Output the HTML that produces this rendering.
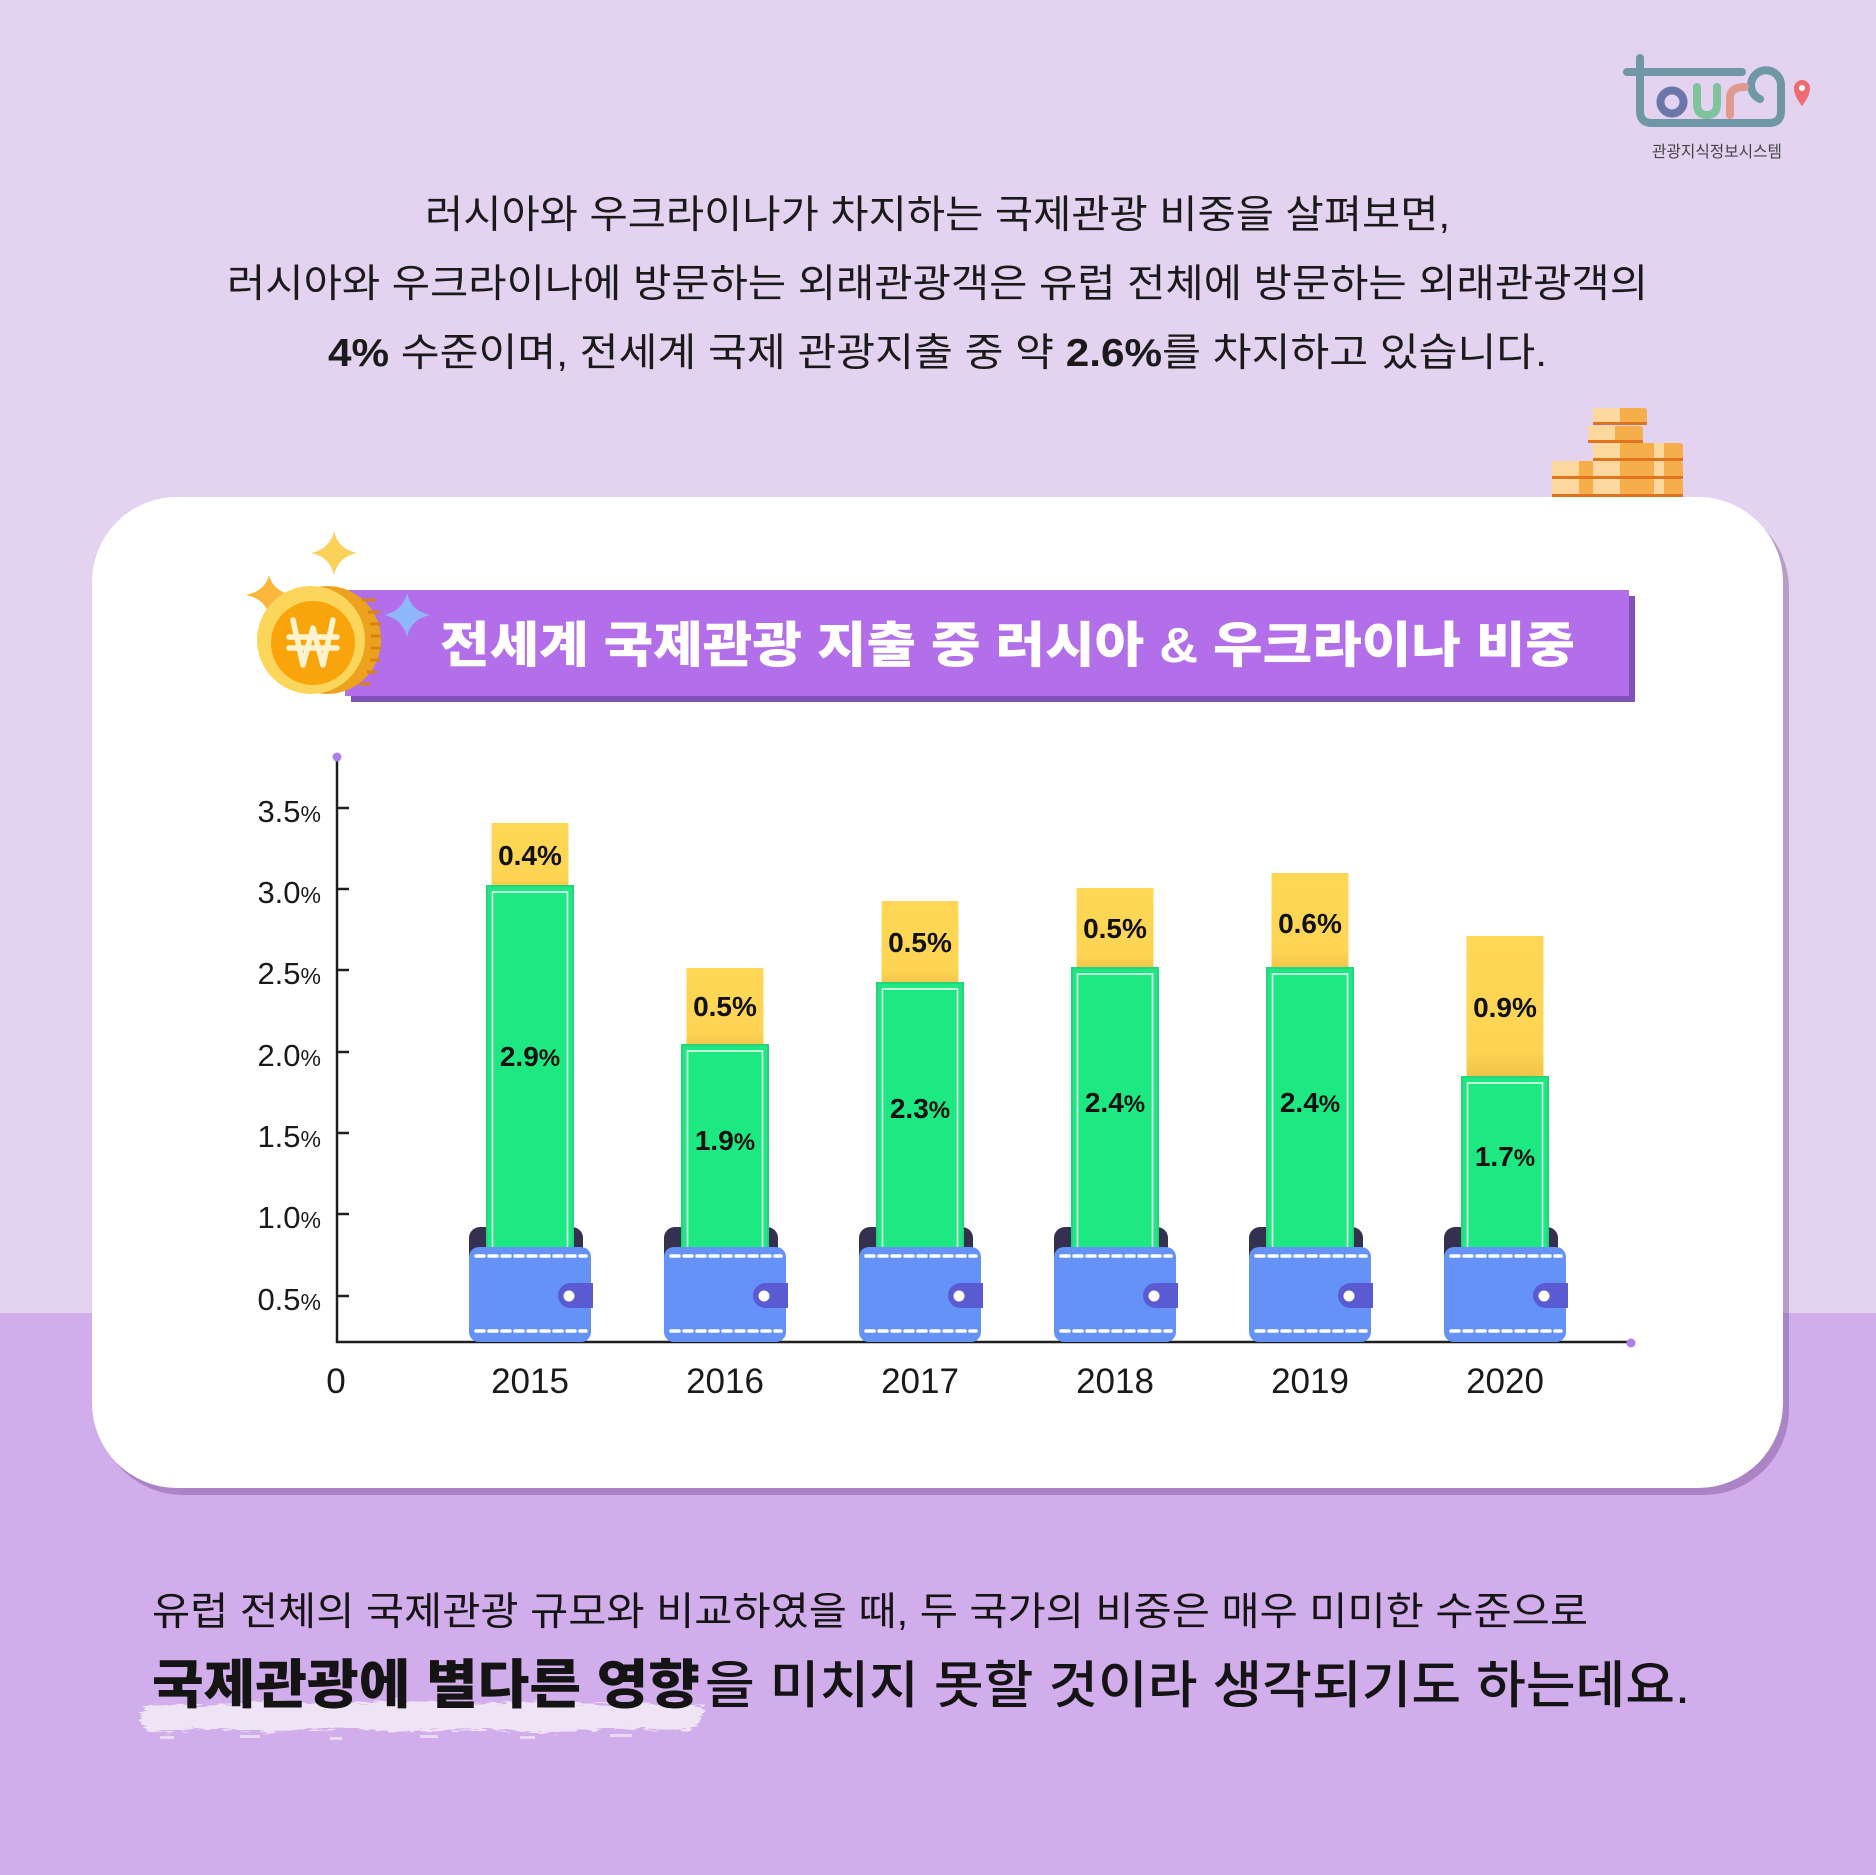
<!DOCTYPE html>
<html><head><meta charset="utf-8"><style>
html,body{margin:0;padding:0;background:#e3d2f0;}
svg{display:block;}
.kr{font-family:"Liberation Sans","Noto Sans CJK KR",sans-serif;}
.num{font-family:"Liberation Sans","Noto Sans CJK KR",sans-serif;}
</style></head><body>
<svg width="1876" height="1875" viewBox="0 0 1876 1875" xmlns="http://www.w3.org/2000/svg">
<defs>
<linearGradient id="yg" x1="0" y1="0" x2="0" y2="1">
<stop offset="0" stop-color="#ffd756"/><stop offset="0.8" stop-color="#fdd453"/><stop offset="1" stop-color="#eebf48"/>
</linearGradient>
<filter id="rough" x="-5%" y="-30%" width="110%" height="160%">
<feTurbulence type="fractalNoise" baseFrequency="0.08 0.5" numOctaves="2" seed="3" result="n"/>
<feDisplacementMap in="SourceGraphic" in2="n" scale="10" xChannelSelector="R" yChannelSelector="G"/>
</filter>
</defs>
<!-- background -->
<rect x="0" y="0" width="1876" height="1313" fill="#e3d2f0"/>
<rect x="0" y="1313" width="1876" height="562" fill="#d2adeb"/>

<!-- logo -->
<g fill="none" stroke-linecap="round" stroke-linejoin="round" stroke-width="8">
<path d="M1640,58 V111 Q1640,123 1652,123 H1769 Q1781,123 1781,111 V86" stroke="#6f97a6"/>
<path d="M1627,72 H1742" stroke="#6f97a6"/>
<path d="M1781,86 A15,15 0 1 0 1760,99" stroke="#6f97a6"/>
<circle cx="1672" cy="102" r="11.5" stroke="#6b77a8"/>
<path d="M1697,87 V104 Q1697,115 1707,115 Q1717,115 1717,104 V87" stroke="#7fc29b"/>
<path d="M1730,115 V98 Q1730,87 1745,87" stroke="#e09a90"/>
</g>
<path d="M1802,106 Q1794,96 1794,88 A8,8 0 1 1 1810,88 Q1810,96 1802,106 Z" fill="#ef6b72"/>
<circle cx="1802" cy="88" r="3" fill="#fff"/>
<text x="1717" y="157" text-anchor="middle" class="kr" font-size="16" fill="#444" textLength="130" lengthAdjust="spacingAndGlyphs">관광지식정보시스템</text>

<!-- top paragraph -->
<g class="kr" font-size="39" fill="#1a1a1a">
<text x="425" y="228" textLength="1025" lengthAdjust="spacingAndGlyphs">러시아와 우크라이나가 차지하는 국제관광 비중을 살펴보면,</text>
<text x="227" y="297" textLength="1421" lengthAdjust="spacingAndGlyphs">러시아와 우크라이나에 방문하는 외래관광객은 유럽 전체에 방문하는 외래관광객의</text>
<text x="328" y="366" textLength="1219" lengthAdjust="spacingAndGlyphs"><tspan font-weight="bold">4%</tspan> 수준이며, 전세계 국제 관광지출 중 약 <tspan font-weight="bold">2.6%</tspan>를 차지하고 있습니다.</text>
</g>

<!-- coin stack top right -->
<g>
<g>
<rect x="1593" y="408" width="54" height="17" rx="3" fill="#f5ae4a"/><rect x="1593" y="408" width="27" height="14" fill="#fcd79e"/><rect x="1593" y="422" width="54" height="3" fill="#e2731e"/>
</g>
<g>
<rect x="1588" y="426" width="55" height="17" rx="3" fill="#f5ae4a"/><rect x="1588" y="426" width="27" height="14" fill="#fcd79e"/><rect x="1588" y="440" width="55" height="3" fill="#e2731e"/>
</g>
<g>
<rect x="1593" y="443" width="90" height="18" rx="3" fill="#f5ae4a"/><rect x="1593" y="443" width="27" height="15" fill="#fcd79e"/><rect x="1654" y="443" width="10" height="15" fill="#fcd79e"/><rect x="1593" y="458" width="90" height="3" fill="#e2731e"/>
</g>
<g>
<rect x="1552" y="461" width="131" height="18" rx="3" fill="#f5ae4a"/><rect x="1552" y="461" width="27" height="15" fill="#fcd79e"/><rect x="1593" y="461" width="27" height="15" fill="#fcd79e"/><rect x="1654" y="461" width="10" height="15" fill="#fcd79e"/><rect x="1552" y="476" width="131" height="3" fill="#e2731e"/>
</g>
<g>
<rect x="1552" y="479" width="131" height="18" rx="3" fill="#f5ae4a"/><rect x="1552" y="479" width="27" height="15" fill="#fcd79e"/><rect x="1593" y="479" width="27" height="15" fill="#fcd79e"/><rect x="1654" y="479" width="10" height="15" fill="#fcd79e"/><rect x="1552" y="494" width="131" height="3" fill="#e2731e"/>
</g>
</g>

<!-- card -->
<rect x="98" y="504" width="1691" height="991" rx="85" fill="rgba(80,40,110,0.3)"/>
<rect x="92" y="497" width="1691" height="991" rx="85" fill="#ffffff"/>

<!-- banner -->
<rect x="351" y="596" width="1284" height="106" fill="#7f51b9"/>
<rect x="345" y="590" width="1284" height="106" fill="#b36fea"/>
<text x="440" y="662" class="kr" font-size="49" font-weight="900" fill="#ffffff" textLength="1135" lengthAdjust="spacingAndGlyphs">전세계 국제관광 지출 중 러시아 &amp; 우크라이나 비중</text>

<!-- sparkles -->
<path d="M334,531 Q338,549 357,553 Q338,557 334,575 Q330,557 311,553 Q330,549 334,531 Z" fill="#fcd15a"/>
<path d="M269,575 Q273,591 292,595 Q273,599 269,615 Q265,599 246,595 Q265,591 269,575 Z" fill="#fbb63d"/>
<!-- coin -->
<circle cx="327" cy="640" r="54" fill="#eda21e"/>
<g stroke="#d9820f" stroke-width="3">
<line x1="362" y1="600" x2="376" y2="600"/><line x1="368" y1="612" x2="380" y2="612"/><line x1="370" y1="624" x2="381" y2="624"/><line x1="371" y1="636" x2="381" y2="636"/><line x1="371" y1="648" x2="381" y2="648"/><line x1="370" y1="660" x2="380" y2="660"/><line x1="367" y1="672" x2="377" y2="672"/><line x1="360" y1="684" x2="370" y2="684"/>
</g>
<circle cx="311" cy="640" r="54" fill="#fcd55b"/>
<circle cx="313" cy="643" r="42" fill="#f9a40b"/>
<g stroke="#fff3cf" stroke-width="5.5" fill="none" stroke-linecap="round" stroke-linejoin="round">
<path d="M293,620 L303,665 L313,628 L323,665 L333,620"/>
<path d="M289,637 H337"/>
<path d="M289,648 H337"/>
</g>
<path d="M407,593 Q411,611 430,615 Q411,619 407,637 Q403,619 384,615 Q403,611 407,593 Z" fill="#8fb8fb"/>

<!-- axes -->
<g stroke="#1e1e1e" stroke-width="2.5">
<line x1="337" y1="757" x2="337" y2="1343"/>
<line x1="336" y1="1342" x2="1631" y2="1342"/>
<line x1="337" y1="808" x2="349" y2="808"/>
<line x1="337" y1="889" x2="349" y2="889"/>
<line x1="337" y1="970" x2="349" y2="970"/>
<line x1="337" y1="1052" x2="349" y2="1052"/>
<line x1="337" y1="1133" x2="349" y2="1133"/>
<line x1="337" y1="1214" x2="349" y2="1214"/>
<line x1="337" y1="1296" x2="349" y2="1296"/>
</g>
<circle cx="337" cy="757" r="4.5" fill="#b07ee8"/>
<circle cx="1631" cy="1343" r="4.5" fill="#b07ee8"/>

<g class="num" fill="#1a1a1a" text-anchor="end" font-size="31">
<text x="321" y="822">3.5<tspan font-size="23">%</tspan></text>
<text x="321" y="903">3.0<tspan font-size="23">%</tspan></text>
<text x="321" y="984">2.5<tspan font-size="23">%</tspan></text>
<text x="321" y="1066">2.0<tspan font-size="23">%</tspan></text>
<text x="321" y="1147">1.5<tspan font-size="23">%</tspan></text>
<text x="321" y="1228">1.0<tspan font-size="23">%</tspan></text>
<text x="321" y="1310">0.5<tspan font-size="23">%</tspan></text>
</g>
<g class="num" fill="#1a1a1a" text-anchor="middle" font-size="35">
<text x="336" y="1393">0</text>
<text x="530" y="1393">2015</text>
<text x="725" y="1393">2016</text>
<text x="920" y="1393">2017</text>
<text x="1115" y="1393">2018</text>
<text x="1310" y="1393">2019</text>
<text x="1505" y="1393">2020</text>
</g>

<!-- bars + wallets -->
<g>
<rect x="469" y="1227" width="114" height="40" rx="11" fill="#34304f"/>
<rect x="491.5" y="823" width="77" height="70" fill="url(#yg)"/>
<rect x="487" y="886" width="86" height="400" fill="#1de882" stroke="#27d37b" stroke-width="2"/>
<rect x="492.5" y="892" width="75" height="400" fill="none" stroke="#ffffff" stroke-width="1.6" opacity="0.9"/>
<rect x="469" y="1247" width="122" height="95" rx="10" fill="#6592f7"/>
<line x1="476" y1="1256" x2="586" y2="1256" stroke="#fff" stroke-width="3.5" stroke-dasharray="8 5" stroke-linecap="round"/>
<line x1="476" y1="1331" x2="586" y2="1331" stroke="#fff" stroke-width="3.5" stroke-dasharray="8 5" stroke-linecap="round"/>
<path d="M570.5,1283 H593 V1308 H570.5 A12.5,12.5 0 0 1 570.5,1283 Z" fill="#5a5ad3"/>
<circle cx="569" cy="1296" r="5.5" fill="#fff"/>
</g>
<g>
<rect x="664" y="1227" width="114" height="40" rx="11" fill="#34304f"/>
<rect x="686.5" y="968" width="77" height="82" fill="url(#yg)"/>
<rect x="682" y="1045" width="86" height="240" fill="#1de882" stroke="#27d37b" stroke-width="2"/>
<rect x="687.5" y="1051" width="75" height="240" fill="none" stroke="#ffffff" stroke-width="1.6" opacity="0.9"/>
<rect x="664" y="1247" width="122" height="95" rx="10" fill="#6592f7"/>
<line x1="671" y1="1256" x2="781" y2="1256" stroke="#fff" stroke-width="3.5" stroke-dasharray="8 5" stroke-linecap="round"/>
<line x1="671" y1="1331" x2="781" y2="1331" stroke="#fff" stroke-width="3.5" stroke-dasharray="8 5" stroke-linecap="round"/>
<path d="M765.5,1283 H788 V1308 H765.5 A12.5,12.5 0 0 1 765.5,1283 Z" fill="#5a5ad3"/>
<circle cx="764" cy="1296" r="5.5" fill="#fff"/>
</g>
<g>
<rect x="859" y="1227" width="114" height="40" rx="11" fill="#34304f"/>
<rect x="881.5" y="901" width="77" height="87" fill="url(#yg)"/>
<rect x="877" y="983" width="86" height="300" fill="#1de882" stroke="#27d37b" stroke-width="2"/>
<rect x="882.5" y="989" width="75" height="300" fill="none" stroke="#ffffff" stroke-width="1.6" opacity="0.9"/>
<rect x="859" y="1247" width="122" height="95" rx="10" fill="#6592f7"/>
<line x1="866" y1="1256" x2="976" y2="1256" stroke="#fff" stroke-width="3.5" stroke-dasharray="8 5" stroke-linecap="round"/>
<line x1="866" y1="1331" x2="976" y2="1331" stroke="#fff" stroke-width="3.5" stroke-dasharray="8 5" stroke-linecap="round"/>
<path d="M960.5,1283 H983 V1308 H960.5 A12.5,12.5 0 0 1 960.5,1283 Z" fill="#5a5ad3"/>
<circle cx="959" cy="1296" r="5.5" fill="#fff"/>
</g>
<g>
<rect x="1054" y="1227" width="114" height="40" rx="11" fill="#34304f"/>
<rect x="1076.5" y="888" width="77" height="85" fill="url(#yg)"/>
<rect x="1072" y="968" width="86" height="310" fill="#1de882" stroke="#27d37b" stroke-width="2"/>
<rect x="1077.5" y="974" width="75" height="310" fill="none" stroke="#ffffff" stroke-width="1.6" opacity="0.9"/>
<rect x="1054" y="1247" width="122" height="95" rx="10" fill="#6592f7"/>
<line x1="1061" y1="1256" x2="1171" y2="1256" stroke="#fff" stroke-width="3.5" stroke-dasharray="8 5" stroke-linecap="round"/>
<line x1="1061" y1="1331" x2="1171" y2="1331" stroke="#fff" stroke-width="3.5" stroke-dasharray="8 5" stroke-linecap="round"/>
<path d="M1155.5,1283 H1178 V1308 H1155.5 A12.5,12.5 0 0 1 1155.5,1283 Z" fill="#5a5ad3"/>
<circle cx="1154" cy="1296" r="5.5" fill="#fff"/>
</g>
<g>
<rect x="1249" y="1227" width="114" height="40" rx="11" fill="#34304f"/>
<rect x="1271.5" y="873" width="77" height="100" fill="url(#yg)"/>
<rect x="1267" y="968" width="86" height="310" fill="#1de882" stroke="#27d37b" stroke-width="2"/>
<rect x="1272.5" y="974" width="75" height="310" fill="none" stroke="#ffffff" stroke-width="1.6" opacity="0.9"/>
<rect x="1249" y="1247" width="122" height="95" rx="10" fill="#6592f7"/>
<line x1="1256" y1="1256" x2="1366" y2="1256" stroke="#fff" stroke-width="3.5" stroke-dasharray="8 5" stroke-linecap="round"/>
<line x1="1256" y1="1331" x2="1366" y2="1331" stroke="#fff" stroke-width="3.5" stroke-dasharray="8 5" stroke-linecap="round"/>
<path d="M1350.5,1283 H1373 V1308 H1350.5 A12.5,12.5 0 0 1 1350.5,1283 Z" fill="#5a5ad3"/>
<circle cx="1349" cy="1296" r="5.5" fill="#fff"/>
</g>
<g>
<rect x="1444" y="1227" width="114" height="40" rx="11" fill="#34304f"/>
<rect x="1466.5" y="936" width="77" height="146" fill="url(#yg)"/>
<rect x="1462" y="1077" width="86" height="200" fill="#1de882" stroke="#27d37b" stroke-width="2"/>
<rect x="1467.5" y="1083" width="75" height="200" fill="none" stroke="#ffffff" stroke-width="1.6" opacity="0.9"/>
<rect x="1444" y="1247" width="122" height="95" rx="10" fill="#6592f7"/>
<line x1="1451" y1="1256" x2="1561" y2="1256" stroke="#fff" stroke-width="3.5" stroke-dasharray="8 5" stroke-linecap="round"/>
<line x1="1451" y1="1331" x2="1561" y2="1331" stroke="#fff" stroke-width="3.5" stroke-dasharray="8 5" stroke-linecap="round"/>
<path d="M1545.5,1283 H1568 V1308 H1545.5 A12.5,12.5 0 0 1 1545.5,1283 Z" fill="#5a5ad3"/>
<circle cx="1544" cy="1296" r="5.5" fill="#fff"/>
</g>

<!-- bar labels -->
<g class="num" fill="#111" font-weight="bold" font-size="28" text-anchor="middle">
<text x="530" y="865">0.4%</text>
<text x="725" y="1016">0.5%</text>
<text x="920" y="952">0.5%</text>
<text x="1115" y="938">0.5%</text>
<text x="1310" y="933">0.6%</text>
<text x="1505" y="1017">0.9%</text>
<text x="530" y="1066">2.9<tspan font-size="24">%</tspan></text>
<text x="725" y="1150">1.9<tspan font-size="24">%</tspan></text>
<text x="920" y="1118">2.3<tspan font-size="24">%</tspan></text>
<text x="1115" y="1112">2.4<tspan font-size="24">%</tspan></text>
<text x="1310" y="1112">2.4<tspan font-size="24">%</tspan></text>
<text x="1505" y="1166">1.7<tspan font-size="24">%</tspan></text>
</g>

<!-- bottom text -->
<g filter="url(#rough)" opacity="0.85">
<path d="M140,1712 L150,1704 L200,1706 L260,1701 L330,1705 L400,1700 L470,1704 L540,1701 L610,1705 L680,1702 L704,1707 L700,1722 L690,1731 L620,1728 L550,1733 L480,1729 L410,1732 L340,1728 L270,1732 L200,1729 L150,1733 L142,1726 Z" fill="#f4eef9"/>
</g>
<g fill="#f4eef9" opacity="0.7">
<rect x="160" y="1736" width="14" height="3"/><rect x="240" y="1735" width="20" height="3"/><rect x="330" y="1737" width="12" height="3"/><rect x="420" y="1735" width="18" height="3"/><rect x="520" y="1736" width="15" height="3"/><rect x="610" y="1734" width="22" height="3"/>
</g>
<g class="kr" fill="#141414">
<text x="152" y="1625" font-size="39" textLength="1436" lengthAdjust="spacingAndGlyphs">유럽 전체의 국제관광 규모와 비교하였을 때, 두 국가의 비중은 매우 미미한 수준으로</text>
<text x="152" y="1703" font-size="53" font-weight="900" textLength="548" lengthAdjust="spacingAndGlyphs">국제관광에 별다른 영향</text>
<text x="705" y="1703" font-size="51" font-weight="500" textLength="985" lengthAdjust="spacingAndGlyphs">을 미치지 못할 것이라 생각되기도 하는데요.</text>
</g>
</svg>
</body></html>
